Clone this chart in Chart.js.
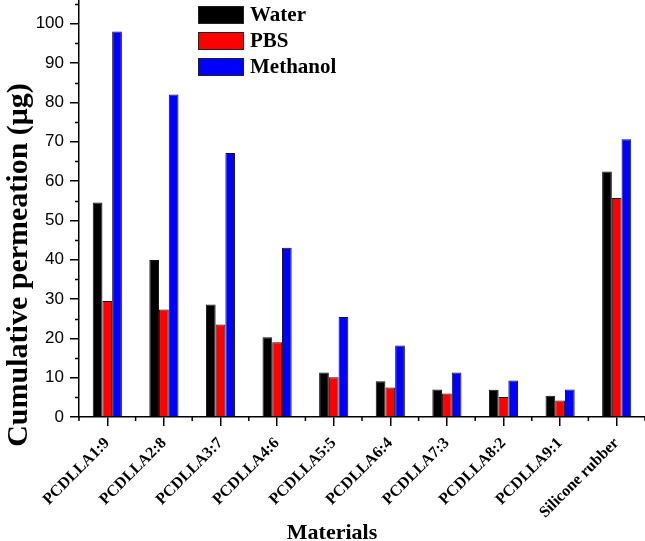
<!DOCTYPE html>
<html>
<head>
<meta charset="utf-8">
<script src="https://cdn.jsdelivr.net/npm/chart.js@4.4.1/dist/chart.umd.min.js"></script>
<style>
  body { margin: 0; background: #fff; }
  canvas { display: block; }
</style>
</head>
<body>
<canvas id="chart" width="645" height="541"></canvas>
<script>
const categories = ['PCDLLA1:9', 'PCDLLA2:8', 'PCDLLA3:7', 'PCDLLA4:6', 'PCDLLA5:5',
  'PCDLLA6:4', 'PCDLLA7:3', 'PCDLLA8:2', 'PCDLLA9:1', 'Silicone rubber'];
const water = [54.5, 39.9, 28.6, 20.3, 11.3, 9.1, 7.0, 6.9, 5.4, 62.4];
const pbs = [29.5, 27.3, 23.5, 19.0, 10.1, 7.5, 6.0, 5.1, 4.2, 55.7];
const methanol = [98.0, 82.0, 67.1, 43.0, 25.4, 18.2, 11.3, 9.3, 7.0, 70.6];
const yMinorTicks = [5, 15, 25, 35, 45, 55, 65, 75, 85, 95, 105];

const serif = '"Liberation Serif", "Times New Roman", serif';
const sans = '"Liberation Sans", Arial, sans-serif';

// minor ticks, axis titles and the boxed legend are drawn by hand
const extras = {
  id: 'extras',
  afterDraw(chart) {
    const ctx = chart.ctx;
    const x = chart.scales.x, y = chart.scales.y;
    const area = chart.chartArea;
    ctx.save();
    ctx.strokeStyle = '#000';
    ctx.lineWidth = 1.5;
    ctx.beginPath();
    yMinorTicks.forEach(v => {
      const py = Math.round(y.getPixelForValue(v)) + 0.5;
      ctx.moveTo(area.left - 4, py);
      ctx.lineTo(area.left, py);
    });
    for (let i = 0; i <= categories.length; i++) {
      const px = x.getPixelForValue(i - 0.5);
      ctx.moveTo(px, area.bottom);
      ctx.lineTo(px, area.bottom + 4);
    }
    ctx.stroke();

    ctx.fillStyle = '#000';
    ctx.font = 'bold 22px ' + serif;
    ctx.textAlign = 'center';
    ctx.textBaseline = 'alphabetic';
    ctx.fillText('Materials', 332, 539);

    ctx.save();
    ctx.translate(27, 265);
    ctx.rotate(-Math.PI / 2);
    ctx.font = 'bold 30px ' + serif;
    ctx.fillText('Cumulative permeation (\u03bcg)', 0, 0);
    ctx.restore();

    ctx.font = 'bold 21px ' + serif;
    ctx.textAlign = 'left';
    ctx.textBaseline = 'middle';
    chart.data.datasets.forEach((ds, i) => {
      const top = 6 + i * 26;
      ctx.fillStyle = ds.backgroundColor;
      ctx.fillRect(198, top, 46, 18);
      ctx.lineWidth = 1;
      ctx.strokeStyle = '#222';
      ctx.strokeRect(198.5, top + 0.5, 45, 17);
      ctx.fillStyle = '#000';
      ctx.fillText(ds.label, 250, top + 10);
    });
    ctx.restore();
  }
};

new Chart(document.getElementById('chart'), {
  type: 'bar',
  data: {
    labels: categories,
    datasets: [
      { label: 'Water', data: water, backgroundColor: '#000000' },
      { label: 'PBS', data: pbs, backgroundColor: '#ff0000' },
      { label: 'Methanol', data: methanol, backgroundColor: '#0000ff' }
    ]
  },
  options: {
    responsive: false,
    animation: false,
    layout: { padding: 0 },
    datasets: {
      bar: {
        borderColor: '#111',
        borderWidth: 1,
        borderSkipped: 'bottom',
        categoryPercentage: 0.515,
        barPercentage: 1
      }
    },
    plugins: {
      legend: { display: false },
      tooltip: { enabled: false }
    },
    scales: {
      x: {
        grid: {
          offset: false,
          drawOnChartArea: false,
          color: '#000',
          lineWidth: 1.5,
          tickLength: 9
        },
        border: { display: true, color: '#000', width: 1.5 },
        ticks: {
          color: '#000',
          minRotation: 45,
          maxRotation: 45,
          padding: 8,
          font: { family: serif, size: 16, weight: 'bold' }
        },
        afterFit(s) { s.height = 124; s.paddingLeft = 0; s.paddingRight = 0; }
      },
      y: {
        min: 0,
        max: 106,
        afterBuildTicks(s) { s.ticks = s.ticks.filter(t => t.value % 10 === 0); },
        grid: {
          drawOnChartArea: false,
          color: '#000',
          lineWidth: 1.5,
          tickLength: 9
        },
        border: { display: true, color: '#000', width: 1.5 },
        ticks: {
          stepSize: 10,
          color: '#000',
          padding: 6,
          font: { family: sans, size: 17 }
        },
        afterFit(s) { s.width = 79; s.paddingTop = 0; s.paddingBottom = 0; }
      }
    }
  },
  plugins: [extras]
});
</script>
</body>
</html>
